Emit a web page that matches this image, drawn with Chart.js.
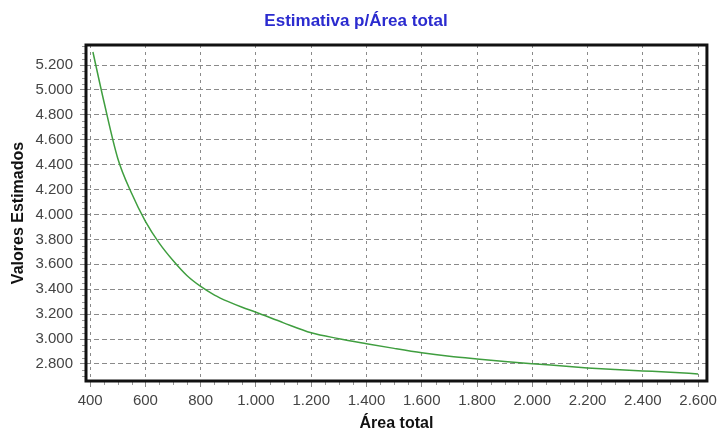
<!DOCTYPE html>
<html>
<head>
<meta charset="utf-8">
<title>Estimativa p/Área total</title>
<script src="https://cdn.jsdelivr.net/npm/chart.js@4"></script>
<style>
  html, body { margin: 0; padding: 0; background: #fff; }
  #wrap { width: 722px; height: 432px; }
</style>
</head>
<body>
<div id="wrap"><canvas id="chart" width="722" height="432"></canvas></div>
<script>
const areaTotal = [410, 450, 500, 550, 600, 650, 700, 750, 800, 850, 900, 950, 1000, 1100, 1200, 1300, 1400, 1500, 1600, 1700, 1800, 1900, 2000, 2100, 2200, 2300, 2400, 2500, 2600];
const valoresEstimados = [5305, 4905, 4450, 4170, 3945, 3770, 3630, 3510, 3422, 3353, 3300, 3255, 3215, 3130, 3050, 3003, 2963, 2925, 2890, 2862, 2840, 2820, 2802, 2785, 2768, 2755, 2744, 2733, 2720];

const xTicks = [400, 600, 800, 1000, 1200, 1400, 1600, 1800, 2000, 2200, 2400, 2600];
const yTicks = [2800, 3000, 3200, 3400, 3600, 3800, 4000, 4200, 4400, 4600, 4800, 5000, 5200];

const font = "'Liberation Sans', Arial, sans-serif";

// 1.000 style thousands separator
function fmt(v) {
  return String(v).replace(/\B(?=(\d{3})+(?!\d))/g, ".");
}

// black frame round the plot, small minor ticks outside it
const frame = {
  id: "frame",
  afterDatasetsDraw(chart) {
    const a = chart.chartArea;
    const ctx = chart.ctx;
    const xs = chart.scales.x, ys = chart.scales.y;
    ctx.save();
    ctx.strokeStyle = "#999";
    ctx.lineWidth = 1;
    ctx.beginPath();
    for (let v = 450; v < 2632; v += 50) {
      if (v % 200 === 0) continue;
      const px = Math.round(xs.getPixelForValue(v)) + 0.5;
      ctx.moveTo(px, a.bottom);
      ctx.lineTo(px, a.bottom + 4);
    }
    for (let v = 2700; v < 5361; v += 50) {
      if (v % 200 === 0) continue;
      const py = Math.round(ys.getPixelForValue(v)) + 0.5;
      ctx.moveTo(a.left - 4, py);
      ctx.lineTo(a.left, py);
    }
    ctx.stroke();
    ctx.strokeStyle = "#111";
    ctx.lineWidth = 3;
    ctx.strokeRect(a.left, a.top, a.right - a.left, a.bottom - a.top);
    ctx.restore();
  }
};

new Chart(document.getElementById("chart"), {
  type: "line",
  data: {
    datasets: [{
      label: "Valores Estimados",
      data: areaTotal.map((x, i) => ({ x: x, y: valoresEstimados[i] })),
      borderColor: "#3f9e3f",
      borderWidth: 1.5,
      pointRadius: 0,
      cubicInterpolationMode: "monotone",
      fill: false
    }]
  },
  options: {
    responsive: false,
    animation: false,
    layout: { padding: { left: 0, right: 10, top: 0, bottom: 0 } },
    plugins: {
      legend: { display: false },
      tooltip: { enabled: false },
      title: {
        display: true,
        text: "Estimativa p/Área total",
        color: "#2b2bcf",
        font: { family: font, size: 17, weight: "bold", lineHeight: 1.2 },
        padding: { top: 11, bottom: 13.6 }
      }
    },
    scales: {
      x: {
        type: "linear",
        min: 385,
        max: 2632,
        afterBuildTicks: axis => { axis.ticks = xTicks.map(v => ({ value: v })); },
        afterFit: axis => { axis.height = 51; },
        ticks: {
          color: "#444",
          font: { family: font, size: 15 },
          padding: 5,
          maxRotation: 0,
          autoSkip: false,
          callback: v => fmt(v)
        },
        grid: {
          color: "#8a8a8a",
          tickLength: 6,
          tickColor: "#888",
          tickBorderDash: []
        },
        border: { display: false, dash: [3, 4] },
        title: {
          display: true,
          text: "Área total",
          color: "#111",
          font: { family: font, size: 16, weight: "bold", lineHeight: 1 },
          padding: { top: 0, bottom: 0 }
        }
      },
      y: {
        type: "linear",
        min: 2663,
        max: 5361,
        afterBuildTicks: axis => { axis.ticks = yTicks.map(v => ({ value: v })); },
        afterFit: axis => { axis.width = 86; },
        ticks: {
          color: "#444",
          font: { family: font, size: 15 },
          padding: 7,
          autoSkip: false,
          callback: v => fmt(v)
        },
        grid: {
          color: "#8a8a8a",
          tickLength: 6,
          tickColor: "#888",
          tickBorderDash: []
        },
        border: { display: false, dash: [5, 3] },
        title: {
          display: true,
          text: "Valores Estimados",
          color: "#111",
          font: { family: font, size: 16, weight: "bold", lineHeight: 1 },
          padding: { top: 11, bottom: 0 }
        }
      }
    }
  },
  plugins: [frame]
});
</script>
</body>
</html>
